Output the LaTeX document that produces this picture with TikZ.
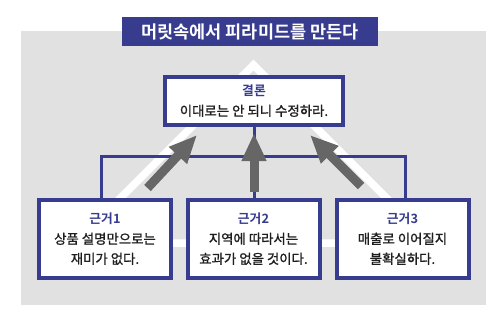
\documentclass[tikz,border=0pt]{standalone}
\usepackage{fontspec}
\setmainfont[FakeBold=1.2]{Noto Sans CJK KR}
\newfontfamily\krbold{Noto Sans CJK KR Bold}
\usetikzlibrary{arrows.meta}
\pgfdeclarelayer{background}
\pgfsetlayers{background,main}
\definecolor{navy}{HTML}{383C8F}
\definecolor{bggray}{HTML}{E1E1E1}
\definecolor{arrowgray}{HTML}{666666}
\definecolor{txt}{HTML}{1E1E1E}
\tikzset{
  box/.style={draw=navy, line width=4pt, fill=white, align=center, inner sep=0pt,
    text=txt, font=\fontsize{13.4}{20}\selectfont},
  topbox/.style={box, minimum width=178pt, minimum height=48pt},
  reasonbox/.style={box, minimum width=132pt, minimum height=78pt},
  link/.style={draw=navy, line width=3pt},
  bigarrow/.style={draw=arrowgray, line width=9pt, -{Triangle[width=23pt,length=28pt]}}
}
\newcommand{\hd}[1]{{\krbold\fontsize{12.8}{20}\selectfont\color{navy}#1}}
\begin{document}
\begin{tikzpicture}[x=1pt,y=-1pt]
\useasboundingbox (0,0) rectangle (495,308);
% title
\node[fill=navy, minimum width=256pt, minimum height=29pt, inner sep=0pt, text=white,
  font=\krbold\fontsize{17.5}{20}\selectfont] (title) at (250,31.5) {머릿속에서 피라미드를 만든다};
% boxes
\node[topbox] (concl) at (254,101) {\hd{결론}\\이대로는 안 되니 수정하라.};
\node[reasonbox] (r1) at (105,239) {\hd{근거1}\\상품 설명만으로는\\재미가 없다.};
\node[reasonbox] (r2) at (253.5,239) {\hd{근거2}\\지역에 따라서는\\효과가 없을 것이다.};
\node[reasonbox] (r3) at (402.5,239) {\hd{근거3}\\매출로 이어질지\\불확실하다.};
% connector junctions
\coordinate (hl) at (101.5,156);
\coordinate (hr) at (405.5,156);
\begin{pgfonlayer}{background}
  \fill[bggray] (21,31) rectangle (486,305);
  % white pyramid
  \draw[white, line width=7.5pt, line join=miter] (253.5,65) -- (75.5,243) -- (431.5,243) -- cycle;
  % connectors
  \draw[link] (concl.south) -- (concl.south |- r2.north);
  \draw[link] (r1.north -| hl) -- (hl) -- (hr) -- (r3.north -| hr);
\end{pgfonlayer}
% arrows
\coordinate (a1s) at (147.5,188);
\coordinate (a1e) at (197,135);
\coordinate (a2s) at (254,192);
\coordinate (a2e) at (254,133);
\coordinate (a3s) at (361,186);
\coordinate (a3e) at (310,135);
\draw[bigarrow] (a1s) -- (a1e);
\draw[bigarrow] (a2s) -- (a2e);
\draw[bigarrow] (a3s) -- (a3e);
\end{tikzpicture}
\end{document}
